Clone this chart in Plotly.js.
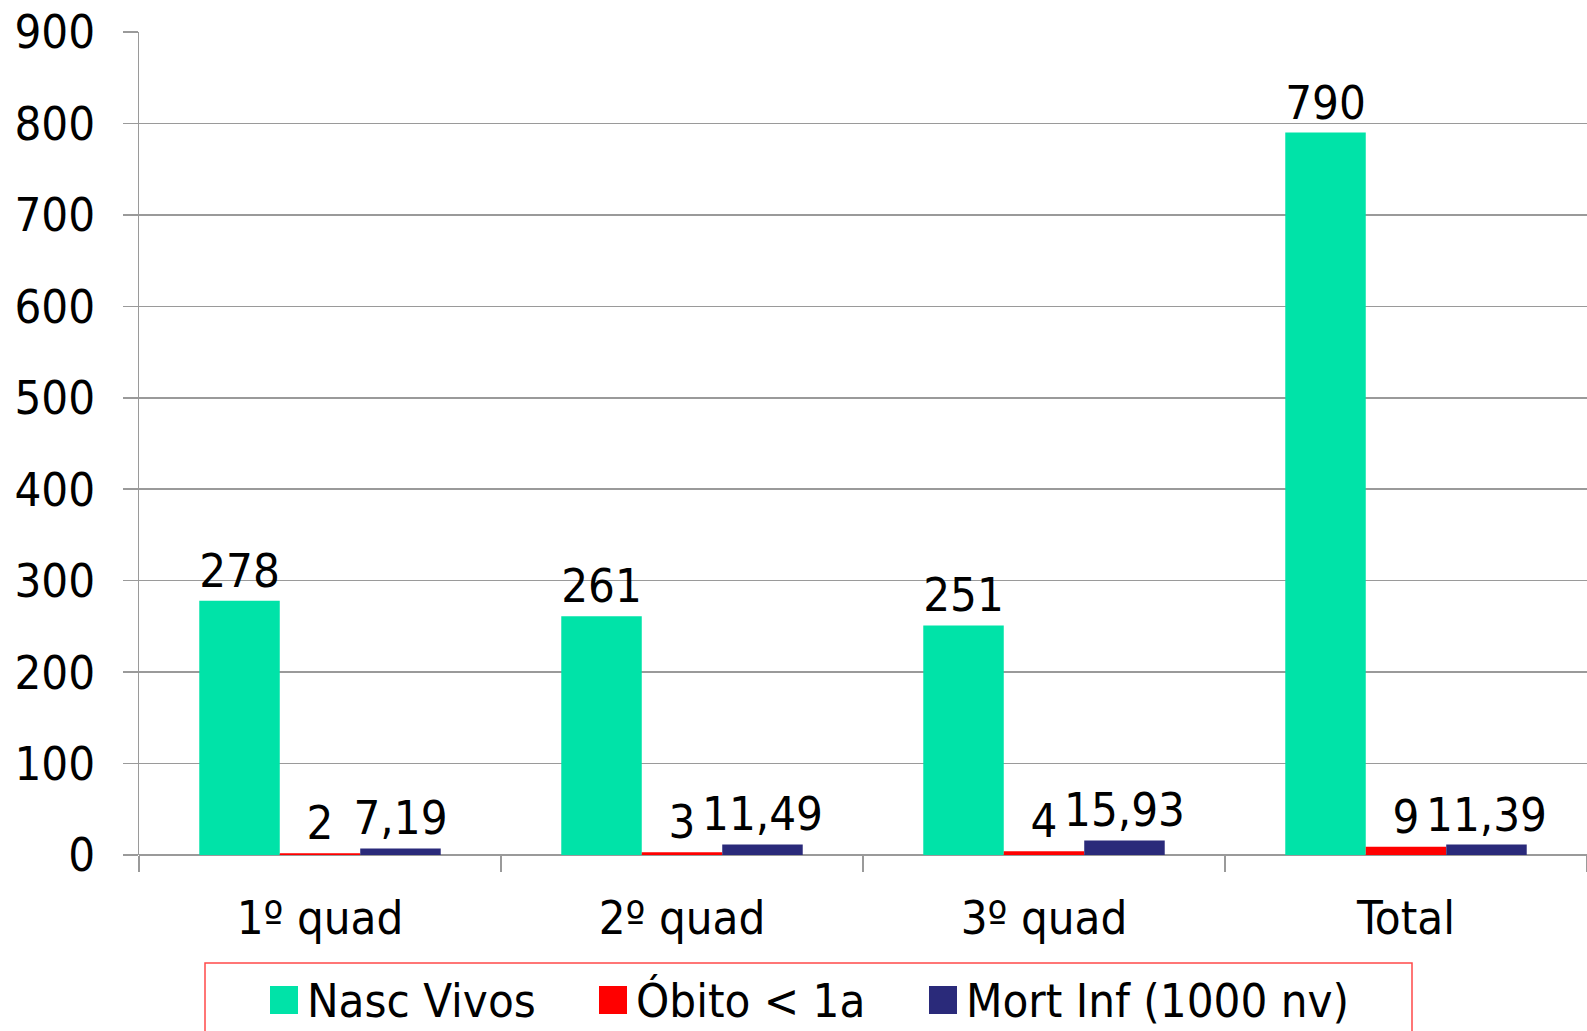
<!DOCTYPE html>
<html>
<head>
<meta charset="utf-8">
<script src="https://cdn.plot.ly/plotly-3.0.1.min.js"></script>
<style>html,body{margin:0;padding:0;background:#fff;}#chart{width:1587px;height:1031px;}</style>
</head>
<body>
<div id="chart"></div>
<script>
const categories = ["1º quad", "2º quad", "3º quad", "Total"];
const nascVivos = [278, 261, 251, 790];
const obitos = [2, 3, 4, 9];
const mortInf = [7.19, 11.49, 15.93, 11.39];
const seriesNames = ["Nasc Vivos", "Óbito < 1a", "Mort Inf (1000 nv)"];
const seriesColors = ["#00E3A8", "#FF0000", "#2A2A7A"];
const yTicks = [0, 100, 200, 300, 400, 500, 600, 700, 800, 900];

const FONT = "Tahoma, 'DejaVu Sans Condensed', 'DejaVu Sans', sans-serif";
const FS = 47;
const fmt = v => String(v).replace('.', ',');

const seriesData = [nascVivos, obitos, mortInf];
const traces = seriesData.map((vals, i) => ({
  type: 'bar',
  name: seriesNames[i],
  x: categories,
  y: vals,
  text: vals.map(fmt),
  textposition: 'outside',
  textfont: {family: FONT, size: FS, color: '#000'},
  constraintext: 'none',
  cliponaxis: false,
  marker: {color: seriesColors[i], line: {width: 0}},
  hoverinfo: 'none',
  showlegend: false
}));

const W = 1587, H = 1031;
const ml = 139, mr = 0, mt = 32, mb = 176;
const pw = W - ml - mr, ph = H - mt - mb;
const px2x = p => (p - ml) / pw;
const px2y = p => (H - mb - p) / ph;

// custom legend
const shapes = [{
  type: 'rect', xref: 'paper', yref: 'paper',
  x0: px2x(205), x1: px2x(1412), y0: px2y(1045), y1: px2y(963),
  line: {color: '#FF4A4A', width: 1.5}, fillcolor: 'rgba(0,0,0,0)'
}];
const annotations = [];
const legendStarts = [270, 599, 929];
seriesNames.forEach((nm, i) => {
  const x0 = legendStarts[i];
  shapes.push({
    type: 'rect', xref: 'paper', yref: 'paper',
    x0: px2x(x0), x1: px2x(x0 + 28), y0: px2y(1014), y1: px2y(986),
    line: {width: 0}, fillcolor: seriesColors[i]
  });
  annotations.push({
    xref: 'paper', yref: 'paper', x: px2x(x0 + 35), y: px2y(1000),
    xanchor: 'left', yanchor: 'middle', showarrow: false, text: nm,
    font: {family: FONT, size: FS, color: '#000'}
  });
});

const layout = {
  width: W, height: H,
  margin: {l: ml, r: mr, t: mt, b: mb, pad: 0},
  paper_bgcolor: '#fff', plot_bgcolor: '#fff',
  showlegend: false,
  barmode: 'group', bargap: 0.333, bargroupgap: 0,
  font: {family: FONT, size: FS, color: '#000'},
  xaxis: {
    type: 'category', tickson: 'boundaries', ticks: 'outside', ticklen: 16,
    tickcolor: '#9A9A9A', tickwidth: 1.5,
    showline: false, showgrid: false, zeroline: false,
    tickfont: {family: FONT, size: FS, color: '#000'},
    ticklabelstandoff: 31
  },
  yaxis: {
    range: [0, 900], tickvals: yTicks, ticktext: yTicks.map(String),
    ticks: 'outside', ticklen: 15, tickcolor: '#9A9A9A', tickwidth: 1.5,
    showline: true, linecolor: '#9A9A9A', linewidth: 1.5,
    showgrid: true, gridcolor: '#9A9A9A', gridwidth: 1.5,
    zeroline: true, zerolinecolor: '#9A9A9A', zerolinewidth: 1.5,
    tickfont: {family: FONT, size: FS, color: '#000'},
    ticklabelstandoff: 18
  },
  shapes: shapes,
  annotations: annotations
};

Plotly.newPlot('chart', traces, layout, {displayModeBar: false, staticPlot: true});
</script>
</body>
</html>
